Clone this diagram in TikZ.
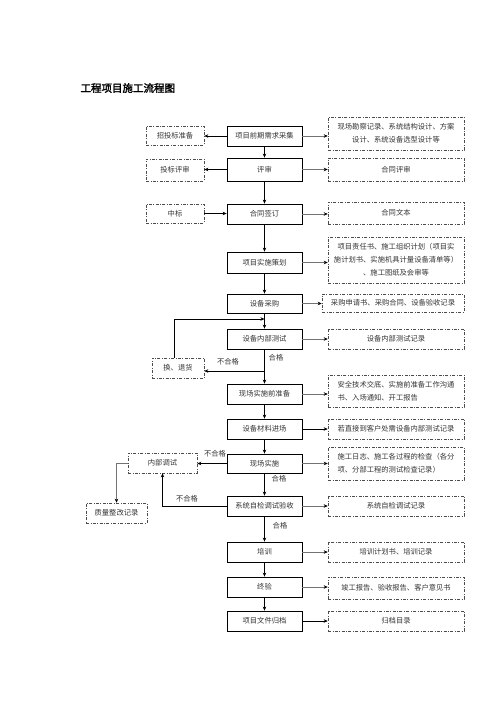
\documentclass[tikz,border=0pt]{standalone}
\usepackage{fontspec}
\setmainfont{Noto Sans CJK SC}
\newfontfamily\titlefont[FakeBold=2]{Noto Sans CJK SC}
\usetikzlibrary{positioning}
\usetikzlibrary{arrows.meta}

\begin{document}
\begin{tikzpicture}[x=1pt, y=-1pt, font=\fontsize{7.3}{13}\selectfont]
	\useasboundingbox (0,0) rectangle (500,708);

	% 定义样式
	\tikzset{
	mainbox/.style = {draw, line width=0.8pt, minimum width=75pt, minimum height=20pt, inner sep=1pt, text=black!80},
	notebox/.style = {draw=black!70, line width=0.6pt, dash pattern=on 3pt off 1.5pt on 0.8pt off 1.5pt,
		minimum height=20pt, inner sep=1pt, align=center, text=black!80},
	arrow/.style = {arrows = {-Stealth[length=4pt, width=3.5pt]}, line width=0.7pt},
	grayarrow/.style = {arrows = {-Stealth[length=4pt, width=3.5pt, color=black]}, line width=0.5pt, draw=black!55},
	tip/.style = {text=black!80, inner sep=1pt}
	}

	% 标题
	\node[anchor=west, font=\titlefont\fontsize{10.5}{12}\selectfont] (title) at (77,88) {工程项目施工流程图};

	% 主流程
	\node[mainbox] (m1) at (264.5,136) {项目前期需求采集};
	\node[mainbox, minimum height=23pt] (m2) at (264.5,169.5) {评审};
	\node[mainbox] (m3) at (264.5,214) {合同签订};
	\node[mainbox, minimum height=21pt] (m4) at (264.5,262.5) {项目实施策划};
	\node[mainbox, minimum height=19pt] (m5) at (264.5,303.5) {设备采购};
	\node[mainbox] (m6) at (264.5,339) {设备内部测试};
	\node[mainbox] (m7) at (264.5,394) {现场实施前准备};
	\node[mainbox] (m8) at (264.5,429) {设备材料进场};
	\node[mainbox, minimum height=19pt] (m9) at (264.5,463.5) {现场实施};
	\node[mainbox] (m10) at (264.5,506) {系统自检调试验收};
	\node[mainbox] (m11) at (264.5,552) {培训};
	\node[mainbox] (m12) at (264.5,587) {终验};
	\node[mainbox] (m13) at (264.5,621) {项目文件归档};

	% 右侧记录
	\node[notebox, minimum width=136pt, minimum height=33pt] (r1) at (396,133.5) {现场勘察记录、系统结构设计、方案\\设计、系统设备选型设计等};
	\node[notebox, minimum width=136pt, minimum height=23pt] (r2) at (396,169.5) {合同评审};
	\node[notebox, minimum width=136pt, minimum height=22pt] (r3) at (396,213) {合同文本};
	\node[notebox, minimum width=136pt, minimum height=46pt] (r4) at (396,260) {项目责任书、施工组织计划（项目实\\施计划书、实施机具计量设备清单等）\\、施工图纸及会审等};
	\node[notebox, minimum width=142pt, minimum height=18pt] (r5) at (393,303) {采购申请书、采购合同、设备验收记录};
	\node[notebox, minimum width=136pt] (r6) at (396,339) {设备内部测试记录};
	\node[notebox, minimum width=136pt, minimum height=32pt, align=left] (r7) at (396,391) {安全技术交底、实施前准备工作沟通\\书、入场通知、开工报告};
	\node[notebox, minimum width=136pt] (r8) at (396,429) {若直接到客户处需设备内部测试记录};
	\node[notebox, minimum width=136pt, minimum height=33pt, align=left] (r9) at (396,463.5) {施工日志、施工各过程的检查（各分\\项、分部工程的测试检查记录）};
	\node[notebox, minimum width=136pt] (r10) at (396,506) {系统自检调试记录};
	\node[notebox, minimum width=136pt] (r11) at (396,552) {培训计划书、培训记录};
	\node[notebox, minimum width=136pt, minimum height=22pt] (r12) at (396,588) {竣工报告、验收报告、客户意见书};
	\node[notebox, minimum width=136pt] (r13) at (396,621) {归档目录};

	% 左侧分支
	\node[notebox, minimum width=58pt, minimum height=19pt] (l1) at (175,135.5) {招投标准备};
	\node[notebox, minimum width=58pt, minimum height=22pt] (l2) at (175,170) {投标评审};
	\node[notebox, minimum width=58pt, minimum height=19pt] (l3) at (175,213.5) {中标};
	\node[notebox, minimum width=52pt] (l4) at (178,368) {换、退货};
	\node[notebox, minimum width=69pt] (l5) at (162.5,463) {内部调试};
	\node[notebox, minimum width=61pt] (l6) at (116.5,513) {质量整改记录};

	\coordinate (back) at (264.5,319);
	\coordinate (fail) at (264.5,371);

	% 文字标注
	\node[tip] (ok1) at (276,358) {合格};
	\node[tip] (ok2) at (279,479) {合格};
	\node[tip] (ok3) at (280,526) {合格};
	\node[tip] (ng1) at (228,362) {不合格};
	\node[tip] (ng2) at (215,454) {不合格};
	\node[tip] (ng3) at (187,499) {不合格};

	% 主流程箭头
	\draw (m1) edge [arrow] (m2);
	\draw (m2) edge [arrow] (m3);
	\draw (m3) edge [arrow] (m4);
	\draw (m4) edge [arrow] (m5);
	\draw (m5) edge [arrow] (m6);
	\draw (m6) edge [arrow] (m7);
	\draw (m7) edge [arrow] (m8);
	\draw (m8) edge [arrow] (m9);
	\draw (m9) edge [arrow] (m10);
	\draw (m10) edge [arrow] (m11);
	\draw (m11) edge [arrow] (m12);
	\draw (m12) edge [arrow] (m13);

	% 左侧箭头
	\draw[arrow] (m1.west) -- (m1.west -| l1.east);
	\draw[arrow] (m2.west) -- (m2.west -| l2.east);
	\draw[arrow] (l3.east) -- (l3.east -| m3.west);
	\draw[arrow] (fail) -- (fail -| l4.east);
	\draw[arrow] ([xshift=-4pt]l4.north) |- (back);
	\draw[arrow] (m9.west) -- (m9.west -| l5.east);
	\draw[arrow] (m10.west) -| (l5.south);
	\draw[grayarrow] (l5.west) -| (l6.north);

	% 右侧箭头
	\draw[grayarrow] (m1.east) -- (m1.east -| r1.west);
	\draw[grayarrow] (m2.east) -- (m2.east -| r2.west);
	\draw[grayarrow] (m3.east) -- (m3.east -| r3.west);
	\draw[grayarrow] (m4.east) -- (m4.east -| r4.west);
	\draw[grayarrow] (m5.east) -- (m5.east -| r5.west);
	\draw[grayarrow] (m6.east) -- (m6.east -| r6.west);
	\draw[grayarrow] (m7.east) -- (m7.east -| r7.west);
	\draw[arrow] (m8.east) -- (m8.east -| r8.west);
	\draw[grayarrow] (m9.east) -- (m9.east -| r9.west);
	\draw[grayarrow] (m10.east) -- (m10.east -| r10.west);
	\draw[grayarrow] (m11.east) -- (m11.east -| r11.west);
	\draw[grayarrow] (m12.east) -- (m12.east -| r12.west);
	\draw[arrow] (m13.east) -- (m13.east -| r13.west);

\end{tikzpicture}
\end{document}
